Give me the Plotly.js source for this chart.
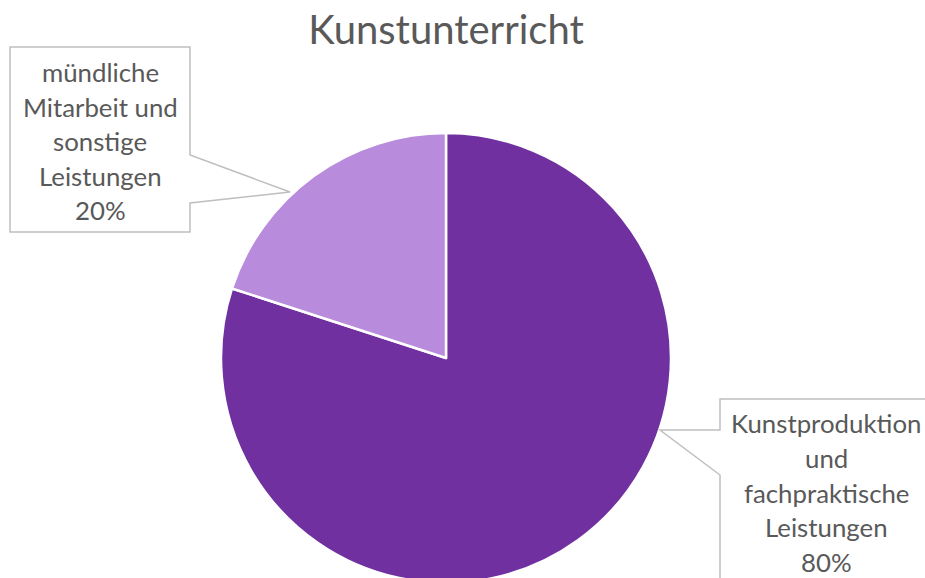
<!DOCTYPE html>
<html><head><meta charset="utf-8">
<script src="https://cdn.plot.ly/plotly-3.0.1.min.js"></script>
<style>html,body{margin:0;padding:0;overflow:hidden;background:#fff}</style>
</head><body><div id="chart"></div>
<script>
const chartTitle = "Kunstunterricht";
const categories = ["Kunstproduktion und fachpraktische Leistungen", "mündliche Mitarbeit und sonstige Leistungen"];
const values = [80, 20];
const colors = ["#7030A0", "#B88BDC"];
const labelLines = [
  ["Kunstproduktion", "und", "fachpraktische", "Leistungen"],
  ["mündliche", "Mitarbeit und", "sonstige", "Leistungen"]
];

const W = 925, H = 590;
const total = values.reduce((a,b)=>a+b,0);
const pct = values.map(v => Math.round(v/total*100) + "%");

const font = "Lato, 'Open Sans', sans-serif";
const grey = "#595959";
const boxCol = "#BFBFBF";

// label layout (pixel coords of callouts)
const callouts = [
  {cx: 826, y0: 423, dy: 34.8, path: "M 925,399 L 720,399 L 720,430 L 660,430 L 720,475 L 720,600"},
  {cx: 100, y0: 72, dy: 34.5, path: "M 10,47 L 190,47 L 190,155 L 290,192 L 190,203 L 190,232 L 10,232 Z"}
];

const annotations = [];
const shapes = [];
callouts.forEach((c, i) => {
  const lines = labelLines[i].concat([pct[i]]);
  lines.forEach((t, k) => {
    annotations.push({x: c.cx, y: c.y0 + k*c.dy, xref: "x", yref: "y", text: t, showarrow: false,
      font: {family: font, size: 25.8, color: grey}, xanchor: "center", yanchor: "middle"});
  });
  shapes.push({type: "path", xref: "x", yref: "y", path: c.path, line: {color: boxCol, width: 1.5}, fillcolor: "rgba(255,255,255,0)", layer: "above"});
});

const data = [{
  type: "pie",
  labels: categories,
  values: values,
  sort: false,
  direction: "clockwise",
  rotation: 0,
  textinfo: "none",
  hoverinfo: "label+percent",
  marker: {colors: colors, line: {color: "#ffffff", width: 2.5}},
  domain: {x: [221/W, 671/W], y: [1 - 583/H, 1 - 133/H]},
  showlegend: false
}];

const layout = {
  width: W, height: H,
  margin: {l: 0, r: 0, t: 0, b: 0},
  paper_bgcolor: "#ffffff", plot_bgcolor: "rgba(0,0,0,0)",
  title: {text: chartTitle, x: 446/W, xanchor: "center", y: 1 - 30/H, yanchor: "middle",
    font: {family: font, size: 40, color: grey}},
  xaxis: {range: [0, W], visible: false, fixedrange: true},
  yaxis: {range: [H, 0], visible: false, fixedrange: true},
  annotations: annotations,
  shapes: shapes,
  showlegend: false
};

Plotly.newPlot("chart", data, layout, {displayModeBar: false, staticPlot: true});
</script></body></html>
